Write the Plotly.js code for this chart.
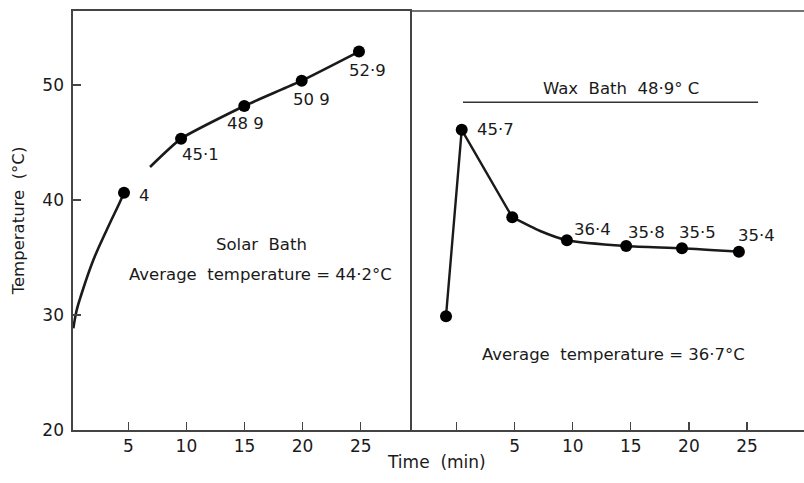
<!DOCTYPE html>
<html>
<head>
<meta charset="utf-8">
<script src="https://cdn.plot.ly/plotly-3.0.1.min.js"></script>
<style>html,body{margin:0;padding:0;background:#fff}#chart{width:804px;height:483px}</style>
</head>
<body>
<div id="chart"></div>
<script>
// ---- Solar bath (left panel) ----
var solarCurveTime = [0.27, 0.56, 0.99, 1.99, 3.14, 4.29, 4.63];
var solarCurveTemp = [28.84, 30.43, 31.89, 34.78, 37.39, 39.85, 40.63];
var solarLineTime = [6.87, 9.54, 14.98, 19.92, 24.85];
var solarLineTemp = [42.87, 45.33, 48.17, 50.37, 52.90];
var solarPointTime = [4.63, 9.54, 14.98, 19.92, 24.85];
var solarPointTemp = [40.63, 45.33, 48.17, 50.37, 52.90];
var solarLabels = ["4", "45·1", "48 9", "50 9", "52·9"];

// ---- Wax bath (right panel) ----
var waxRiseTime = [-0.9, 0.45, 4.8];
var waxRiseTemp = [29.9, 46.1, 38.5];
var waxTime = [4.8, 7.2, 9.5, 14.6, 19.4, 24.3];
var waxTemp = [38.5, 37.3, 36.5, 36.0, 35.8, 35.5];
var waxPointTime = [-0.9, 0.45, 4.8, 9.5, 14.6, 19.4, 24.3];
var waxPointTemp = [29.9, 46.1, 38.5, 36.5, 36.0, 35.8, 35.5];
var waxLabels = ["", "45·7", "", "36·4", "35·8", "35·5", "35·4"];
var waxBathLevel = 48.5;
var waxBathStart = 0.56, waxBathEnd = 25.95;

// ---- Axes ----
var yTicks = [20, 30, 40, 50];
var xTicksLeft = [5, 10, 15, 20, 25];
var xTicksRight = [0, 5, 10, 15, 20, 25];
var xTickTextRight = ["", "5", "10", "15", "20", "25"];

var ink = "#1a1a1a";
var lineW = 2.6;
var font = "DejaVu Sans, sans-serif";

var traces = [
  {x: solarCurveTime, y: solarCurveTemp, xaxis: "x", yaxis: "y", mode: "lines",
   line: {color: ink, width: lineW, shape: "spline", smoothing: 1.2}, hoverinfo: "skip"},
  {x: solarLineTime, y: solarLineTemp, xaxis: "x", yaxis: "y", mode: "lines",
   line: {color: ink, width: lineW, shape: "spline", smoothing: 0.5}, hoverinfo: "skip"},
  {x: solarPointTime, y: solarPointTemp, xaxis: "x", yaxis: "y", mode: "markers",
   marker: {color: "#000", size: 12}},
  {x: waxRiseTime, y: waxRiseTemp, xaxis: "x2", yaxis: "y", mode: "lines",
   line: {color: ink, width: lineW - 0.2}, hoverinfo: "skip"},
  {x: waxTime, y: waxTemp, xaxis: "x2", yaxis: "y", mode: "lines",
   line: {color: ink, width: lineW, shape: "spline", smoothing: 0.7}, hoverinfo: "skip"},
  {x: waxPointTime, y: waxPointTemp, xaxis: "x2", yaxis: "y", mode: "markers",
   marker: {color: "#000", size: 12}}
];

var annFont = {family: font, size: 16.5, color: ink};
var annotations = [];

var solarShift = [[13, -3, "left"], [-1, -16, "left"], [1, -17, "center"], [10, -19, "center"], [9, -19, "center"]];
solarLabels.forEach(function (t, i) {
  annotations.push({x: solarPointTime[i], y: solarPointTemp[i], xref: "x", yref: "y", text: t,
    showarrow: false, xanchor: solarShift[i][2], yanchor: "middle",
    xshift: solarShift[i][0], yshift: solarShift[i][1], font: annFont});
});
var waxShift = [[0, 0, "left"], [13, 0, "left"], [0, 0, "left"], [26, 11, "center"], [20, 13, "center"], [16, 16, "center"], [18, 16, "center"]];
waxLabels.forEach(function (t, i) {
  if (!t) return;
  annotations.push({x: waxPointTime[i], y: waxPointTemp[i], xref: "x2", yref: "y", text: t,
    showarrow: false, xanchor: waxShift[i][2], yanchor: "middle",
    xshift: waxShift[i][0], yshift: waxShift[i][1], font: annFont});
});

annotations.push(
  {x: 16.48, y: 36.09, xref: "x", yref: "y", text: "Solar  Bath", showarrow: false, font: annFont},
  {x: 16.4, y: 33.48, xref: "x", yref: "y", text: "Average  temperature = 44·2°C", showarrow: false, font: annFont},
  {x: 14.14, y: 49.71, xref: "x2", yref: "y", text: "Wax  Bath  48·9° C", showarrow: false, font: annFont},
  {x: 13.5, y: 26.58, xref: "x2", yref: "y", text: "Average  temperature = 36·7°C", showarrow: false, font: annFont},
  {x: 0.4975, y: -0.105, xref: "paper", yref: "paper", text: "Time  (min)", showarrow: false,
   font: {family: font, size: 17, color: ink}}
);

var axisLine = "#444";
var tickFont = {family: font, size: 17, color: ink};
var layout = {
  width: 804, height: 483,
  margin: {l: 73, r: 0, t: 11, b: 53, pad: 0},
  paper_bgcolor: "#fff", plot_bgcolor: "#fff",
  showlegend: false,
  font: {family: font, color: ink},
  xaxis: {domain: [0, 0.461], range: [0.24, 29.24], tickvals: xTicksLeft, ticktext: xTicksLeft.map(String),
    ticks: "inside", ticklen: 8, tickwidth: 1.2, tickcolor: axisLine,
    showline: true, linecolor: axisLine, linewidth: 1.6, mirror: true,
    showgrid: false, zeroline: false, tickfont: tickFont, anchor: "y"},
  xaxis2: {domain: [0.461, 1], range: [-4.0, 29.9], tickvals: xTicksRight, ticktext: xTickTextRight,
    ticks: "inside", ticklen: 8, tickwidth: 1.2, tickcolor: axisLine,
    showline: true, linecolor: axisLine, linewidth: 1.6, mirror: false,
    showgrid: false, zeroline: false, tickfont: tickFont, anchor: "y"},
  yaxis: {range: [20, 56.43], tickvals: yTicks, ticktext: yTicks.map(String),
    ticks: "inside", ticklen: 8, tickwidth: 1.2, tickcolor: axisLine, ticklabelstandoff: 4,
    showline: true, linecolor: axisLine, linewidth: 1.6, mirror: true,
    showgrid: false, zeroline: false, tickfont: tickFont,
    title: {text: "Temperature  (°C)", font: {family: font, size: 16.5, color: ink}, standoff: 13}},
  shapes: [
    {type: "line", xref: "x2", yref: "y", x0: waxBathStart, x1: waxBathEnd, y0: waxBathLevel, y1: waxBathLevel,
     line: {color: "#333", width: 1.4}},
    {type: "line", xref: "paper", yref: "paper", x0: 0.461, x1: 1, y0: 1, y1: 1,
     line: {color: axisLine, width: 1.6}}
  ],
  annotations: annotations
};

Plotly.newPlot("chart", traces, layout, {staticPlot: true, displayModeBar: false});
</script>
</body>
</html>
